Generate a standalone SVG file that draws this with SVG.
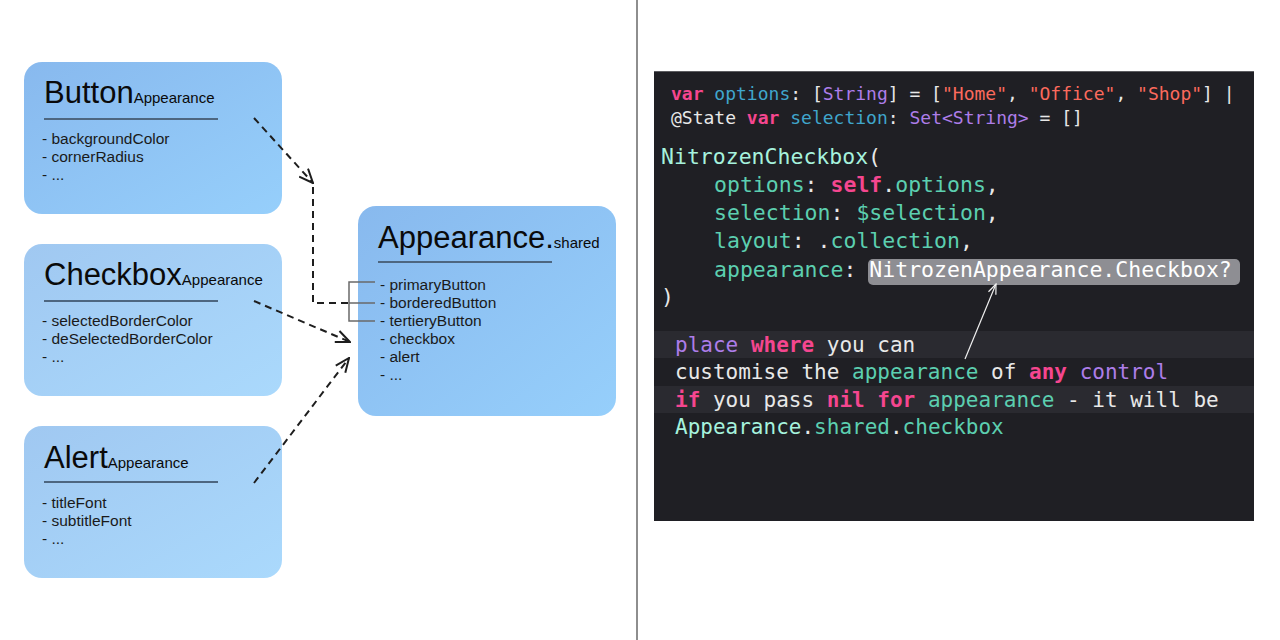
<svg xmlns="http://www.w3.org/2000/svg" width="1280" height="640" viewBox="0 0 1280 640">
<defs>
<linearGradient id="gDark" x1="0" y1="0" x2="1" y2="1">
<stop offset="0" stop-color="#88b9ee"/>
<stop offset="1" stop-color="#96cffb"/>
</linearGradient>
<linearGradient id="gLight" x1="0" y1="0" x2="1" y2="1">
<stop offset="0" stop-color="#a0c8f1"/>
<stop offset="1" stop-color="#aad9fc"/>
</linearGradient>
<marker id="ah" viewBox="0 0 16 14" refX="15" refY="7" markerWidth="16" markerHeight="14" markerUnits="userSpaceOnUse" orient="auto">
<path d="M1,1 L15,7 L1,13" fill="none" stroke="#1e1e1e" stroke-width="2" stroke-dasharray="none"/>
</marker>
<marker id="ahw" viewBox="0 0 12 10" refX="11" refY="5" markerWidth="12" markerHeight="10" markerUnits="userSpaceOnUse" orient="auto">
<path d="M1,1 L11,5 L1,9" fill="none" stroke="#f0f0f0" stroke-width="1.2"/>
</marker>
<style>
.box{stroke:none}
.title{font-family:"Liberation Sans",Arial,sans-serif;font-size:31px;fill:#0a0a0a}
.sub{font-size:15px}
.item{font-family:"Liberation Sans",Arial,sans-serif;font-size:15.5px;fill:#1a1a1a}
.rule{stroke:#4d6680;stroke-width:2}
.dash{fill:none;stroke:#1e1e1e;stroke-width:2;stroke-dasharray:7 5}
.brk{fill:none;stroke:#6a6a6a;stroke-width:1.5}
.code{font-family:"DejaVu Sans Mono","Liberation Mono",monospace;fill:#e8e8e8}
.s18{font-size:18px}
.s21{font-size:21.5px}
.s20{font-size:21px}
.kw{fill:#f5468f;font-weight:bold}
.bl{fill:#40a6cc}
.pu{fill:#ad7de9}
.rd{fill:#fc6a5d}
.tl{fill:#5ccfb0}
.mn{fill:#a6f2dd}
</style>
</defs>
<rect width="1280" height="640" fill="#ffffff"/>
<line x1="637" y1="0" x2="637" y2="640" stroke="#8e8e8e" stroke-width="2"/>

<g id="button-appearance">
<rect class="box" x="24" y="62" width="258" height="152" rx="18" fill="url(#gDark)"/>
<text class="title" x="44" y="103">Button<tspan class="sub">Appearance</tspan></text>
<line class="rule" x1="44" y1="119" x2="218" y2="119"/>
<text class="item" x="42" y="144">- backgroundColor</text>
<text class="item" x="42" y="162">- cornerRadius</text>
<text class="item" x="42" y="180">- ...</text>
</g>

<g id="checkbox-appearance">
<rect class="box" x="24" y="244" width="258" height="152" rx="18" fill="url(#gLight)"/>
<text class="title" x="44" y="285">Checkbox<tspan class="sub">Appearance</tspan></text>
<line class="rule" x1="44" y1="301" x2="218" y2="301"/>
<text class="item" x="42" y="326">- selectedBorderColor</text>
<text class="item" x="42" y="344">- deSelectedBorderColor</text>
<text class="item" x="42" y="362">- ...</text>
</g>

<g id="alert-appearance">
<rect class="box" x="24" y="426" width="258" height="152" rx="18" fill="url(#gLight)"/>
<text class="title" x="44" y="468">Alert<tspan class="sub">Appearance</tspan></text>
<line class="rule" x1="44" y1="482" x2="218" y2="482"/>
<text class="item" x="42" y="508">- titleFont</text>
<text class="item" x="42" y="526">- subtitleFont</text>
<text class="item" x="42" y="544">- ...</text>
</g>

<g id="appearance-shared">
<rect class="box" x="358" y="206" width="258" height="210" rx="18" fill="url(#gDark)"/>
<text class="title" x="378" y="248">Appearance.<tspan class="sub">shared</tspan></text>
<line class="rule" x1="378" y1="262" x2="552" y2="262"/>
<text class="item" x="380" y="290">- primaryButton</text>
<text class="item" x="380" y="308">- borderedButton</text>
<text class="item" x="380" y="326">- tertieryButton</text>
<text class="item" x="380" y="344">- checkbox</text>
<text class="item" x="380" y="362">- alert</text>
<text class="item" x="380" y="380">- ...</text>
<path class="brk" d="M375,282 H349 V321 H375 M349,303 H375"/>
</g>

<g id="connectors">
<line class="dash" x1="254" y1="118" x2="313" y2="183" marker-end="url(#ah)"/>
<path class="dash" d="M313,187 V303 H349"/>
<line class="dash" x1="254" y1="301" x2="350" y2="342" marker-end="url(#ah)"/>
<line class="dash" x1="254" y1="483" x2="349" y2="358" marker-end="url(#ah)"/>
</g>

<g id="code-panel">
<rect x="654" y="71" width="600" height="450" fill="#1f1f24"/>
<line x1="654" y1="71.5" x2="1254" y2="71.5" stroke="#5c5c60" stroke-width="1"/>
<rect x="654" y="331" width="600" height="27" fill="#2a2a30"/>
<rect x="654" y="386" width="600" height="27" fill="#2a2a30"/>
<text class="code s18" x="671" y="100"><tspan class="kw">var</tspan> <tspan class="bl">options</tspan>: [<tspan class="pu">String</tspan>] = [<tspan class="rd">"Home"</tspan>, <tspan class="rd">"Office"</tspan>, <tspan class="rd">"Shop"</tspan>] |</text>
<text class="code s18" x="671" y="124">@State <tspan class="kw">var</tspan> <tspan class="bl">selection</tspan>: <tspan class="pu">Set&lt;String&gt;</tspan> = []</text>
<text class="code s21" x="661" y="164"><tspan class="mn">NitrozenCheckbox</tspan>(</text>
<text class="code s21" x="714" y="192"><tspan class="tl">options</tspan>: <tspan class="kw">self</tspan>.<tspan class="tl">options</tspan>,</text>
<text class="code s21" x="714" y="220"><tspan class="tl">selection</tspan>: <tspan class="tl">$selection</tspan>,</text>
<text class="code s21" x="714" y="248"><tspan class="tl">layout</tspan>: .<tspan class="tl">collection</tspan>,</text>
<rect x="868" y="259" width="372" height="26" rx="5" fill="#8e8e93"/>
<text class="code s21" x="714" y="277"><tspan class="tl">appearance</tspan>: <tspan fill="#ffffff">NitrozenAppearance.Checkbox?</tspan></text>
<text class="code s21" x="661" y="304">)</text>
<text class="code s20" x="675" y="352"><tspan class="pu">place</tspan> <tspan class="kw">where</tspan> you can</text>
<text class="code s20" x="675" y="379">customise the <tspan class="tl">appearance</tspan> of <tspan class="kw">any</tspan> <tspan class="pu">control</tspan></text>
<text class="code s20" x="675" y="407"><tspan class="kw">if</tspan> you pass <tspan class="kw">nil</tspan> <tspan class="kw">for</tspan> <tspan class="tl">appearance</tspan> - it will be</text>
<text class="code s20" x="675" y="434"><tspan class="mn">Appearance</tspan>.<tspan class="tl">shared</tspan>.<tspan class="tl">checkbox</tspan></text>
<line x1="965" y1="359" x2="996" y2="284" stroke="#f0f0f0" stroke-width="1.2" marker-end="url(#ahw)"/>
</g>
</svg>
